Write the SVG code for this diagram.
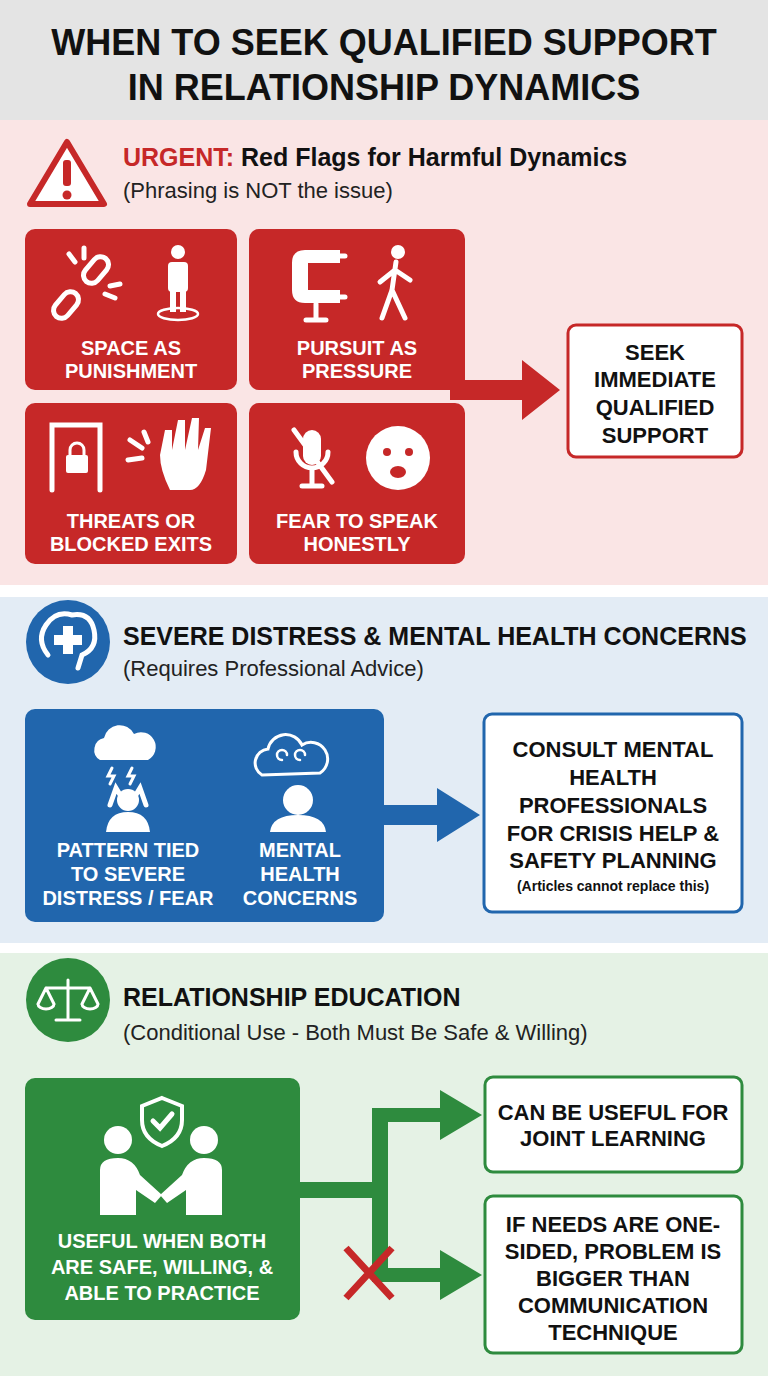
<svg xmlns="http://www.w3.org/2000/svg" width="768" height="1376" viewBox="0 0 768 1376">
<style>
text{font-family:"Liberation Sans",Arial,sans-serif;font-weight:bold}
.t{font-size:36px;fill:#111;text-anchor:middle}
.h{font-size:25px;fill:#111}
.s{font-size:22px;fill:#222;font-weight:normal}
.w{font-size:20px;fill:#fff;text-anchor:middle}
.b{font-size:22px;fill:#111;text-anchor:middle}
.ic{fill:#fff}
.ics{stroke:#fff;stroke-width:5;fill:none;stroke-linecap:round}
</style>
<defs></defs>
<rect x="0" y="0" width="768" height="120" fill="#e4e4e4"/>
<rect x="0" y="120" width="768" height="465" fill="#fae5e5"/>
<rect x="0" y="597" width="768" height="346" fill="#e3ecf5"/>
<rect x="0" y="953" width="768" height="423" fill="#e5f2e5"/>
<g id="title"><text class="t" x="384" y="55">WHEN TO SEEK QUALIFIED SUPPORT</text><text class="t" x="384" y="100">IN RELATIONSHIP DYNAMICS</text></g>

<g id="red-header">
<path d="M67 142 L104 204 L30 204 Z" fill="#fff" stroke="#c62828" stroke-width="6" stroke-linejoin="round"/>
<rect x="63" y="160" width="8" height="26" rx="3" fill="#c62828"/><circle cx="67" cy="195" r="4.5" fill="#c62828"/>
<text class="h" x="123" y="166"><tspan fill="#c62828">URGENT:</tspan> Red Flags for Harmful Dynamics</text>
<text class="s" x="123" y="198">(Phrasing is NOT the issue)</text>
</g>
<g id="n-space"><rect x="25" y="229" width="212" height="161" rx="10" fill="#c62828"/>
<g class="ics"><rect x="58" y="290" width="16" height="30" rx="8" transform="rotate(40 66 305)"/><rect x="88" y="255" width="16" height="30" rx="8" transform="rotate(40 96 270)"/><path d="M75 262 l-6 -8 M84 258 l0 -10 M105 294 l10 4 M110 286 l10 -2"/></g>
<circle class="ic" cx="178" cy="252" r="7"/><rect class="ic" x="168" y="262" width="20" height="30" rx="4"/><rect class="ic" x="170" y="290" width="6" height="22"/><rect class="ic" x="180" y="290" width="6" height="22"/><ellipse cx="178" cy="314" rx="20" ry="6" fill="none" stroke="#fff" stroke-width="2.5"/>
<text class="w" x="131" y="355">SPACE AS</text><text class="w" x="131" y="378">PUNISHMENT</text></g>
<g id="n-pursuit"><rect x="249" y="229" width="216" height="161" rx="10" fill="#c62828"/>
<path d="M340 250 L305 250 Q292 250 292 263 L292 290 Q292 303 305 303 L340 303 L340 290 L308 290 L308 263 L340 263 Z" fill="#fff"/><path class="ics" d="M316 304 L316 318 M306 320 L326 320 M335 256 l10 0 M335 297 l10 0"/>
<circle class="ic" cx="398" cy="252" r="7"/><path class="ics" d="M396 262 L392 290 L382 318 M392 290 L405 318 M395 270 L380 282 M395 270 L410 280"/>
<text class="w" x="357" y="355">PURSUIT AS</text><text class="w" x="357" y="378">PRESSURE</text></g>
<g id="n-threats"><rect x="25" y="403" width="212" height="161" rx="10" fill="#c62828"/>
<path class="ics" d="M52 490 L52 425 L100 425 L100 490"/><rect class="ic" x="66" y="455" width="22" height="18" rx="2"/><path d="M70 456 v-6 a7 7 0 0 1 14 0 v6" fill="none" stroke="#fff" stroke-width="3"/>
<path class="ic" d="M170 490 Q160 470 160 455 L165 430 L172 430 L172 450 L178 420 L185 420 L185 450 L192 418 L199 418 L198 450 L205 428 L211 428 L206 470 Q200 490 190 490 Z"/><path class="ics" d="M130 440 l12 8 M128 460 l14 -2 M144 432 l4 10"/>
<text class="w" x="131" y="528">THREATS OR</text><text class="w" x="131" y="551">BLOCKED EXITS</text></g>
<g id="n-fear"><rect x="249" y="403" width="216" height="161" rx="10" fill="#c62828"/>
<rect class="ic" x="303" y="430" width="18" height="35" rx="9"/><path class="ics" d="M296 452 a16 16 0 0 0 32 0 M312 470 v14 M302 486 h20 M294 430 L332 482"/>
<circle class="ic" cx="398" cy="458" r="32"/><circle cx="387" cy="452" r="4" fill="#c62828"/><circle cx="409" cy="452" r="4" fill="#c62828"/><ellipse cx="398" cy="472" rx="8" ry="6" fill="#c62828"/>
<text class="w" x="357" y="528">FEAR TO SPEAK</text><text class="w" x="357" y="551">HONESTLY</text></g>
<g id="n-seek"><rect x="568" y="325" width="174" height="132" rx="8" fill="#fff" stroke="#c62828" stroke-width="3"/>
<text class="b" x="655" y="360">SEEK</text><text class="b" x="655" y="387">IMMEDIATE</text><text class="b" x="655" y="415">QUALIFIED</text><text class="b" x="655" y="443">SUPPORT</text></g>

<g id="blue-header"><circle cx="68" cy="642" r="42" fill="#2166ad"/>
<path class="ics" d="M48 655 Q36 640 46 625 Q56 610 72 615 Q90 612 94 630 Q98 648 82 655 L78 668"/><rect class="ic" x="63" y="626" width="10" height="28"/><rect class="ic" x="54" y="635" width="28" height="10"/>
<text class="h" x="123" y="645">SEVERE DISTRESS &amp; MENTAL HEALTH CONCERNS</text>
<text class="s" x="123" y="676">(Requires Professional Advice)</text></g>
<g id="n-distress"><rect x="25" y="709" width="359" height="213" rx="10" fill="#2166ad"/>
<path class="ic" d="M100 760 a12 12 0 0 1 4 -22 a16 16 0 0 1 30 -4 a12 12 0 0 1 14 26 Z"/><path class="ics" d="M112 768 l-4 8 l6 0 l-4 8 M132 768 l-4 8 l6 0 l-4 8" style="stroke-width:3"/>
<circle class="ic" cx="128" cy="800" r="11"/><path class="ics" d="M110 805 L116 788 L122 798 M146 805 L140 788 L134 798"/><path class="ic" d="M106 832 Q108 812 128 812 Q148 812 150 832 Z"/>
<text class="w" x="128" y="857">PATTERN TIED</text><text class="w" x="128" y="881">TO SEVERE</text><text class="w" x="128" y="905">DISTRESS / FEAR</text>
<path d="M262 775 a14 14 0 0 1 6 -26 a18 18 0 0 1 34 -4 a14 14 0 0 1 18 28 Z" fill="none" stroke="#fff" stroke-width="3"/><path class="ics" style="stroke-width:2.5" d="M282 760 a5 5 0 1 1 5 -5 M300 760 a5 5 0 1 1 5 -5"/>
<circle class="ic" cx="298" cy="800" r="15"/><path class="ic" d="M270 832 Q272 815 298 815 Q324 815 326 832 Z"/>
<text class="w" x="300" y="857">MENTAL</text><text class="w" x="300" y="881">HEALTH</text><text class="w" x="300" y="905">CONCERNS</text></g>
<g id="n-consult"><rect x="484" y="714" width="258" height="198" rx="8" fill="#fff" stroke="#2166ad" stroke-width="3"/>
<text class="b" x="613" y="757">CONSULT MENTAL</text><text class="b" x="613" y="785">HEALTH</text><text class="b" x="613" y="813">PROFESSIONALS</text><text class="b" x="613" y="841">FOR CRISIS HELP &amp;</text><text class="b" x="613" y="868">SAFETY PLANNING</text><text x="613" y="891" style="font-size:14px;fill:#111;text-anchor:middle">(Articles cannot replace this)</text></g>

<g id="green-header"><circle cx="68" cy="1000" r="42" fill="#2e8b3e"/>
<path class="ics" style="stroke-width:3" d="M68 980 v38 M56 1020 h24 M46 988 h44 M46 988 l-8 16 M46 988 l8 16 M90 988 l-8 16 M90 988 l8 16 M38 1004 a8 5 0 0 0 16 0 M82 1004 a8 5 0 0 0 16 0"/>
<text class="h" x="123" y="1006">RELATIONSHIP EDUCATION</text>
<text class="s" x="123" y="1040">(Conditional Use - Both Must Be Safe &amp; Willing)</text></g>
<g id="n-useful"><rect x="25" y="1078" width="275" height="242" rx="10" fill="#2e8b3e"/>
<path d="M162 1098 l20 8 v14 q0 18 -20 26 q-20 -8 -20 -26 v-14 Z" fill="none" stroke="#fff" stroke-width="4"/><path class="ics" d="M153 1121 l7 7 l12 -14"/>
<circle class="ic" cx="118" cy="1140" r="14"/><circle class="ic" cx="204" cy="1140" r="14"/>
<path class="ic" d="M100 1215 L100 1170 Q100 1158 118 1158 Q134 1158 140 1175 L162 1195 L155 1203 L136 1190 L136 1215 Z"/><path class="ic" d="M222 1215 L222 1170 Q222 1158 204 1158 Q188 1158 182 1175 L160 1195 L167 1203 L186 1190 L186 1215 Z"/>
<text class="w" x="162" y="1248">USEFUL WHEN BOTH</text><text class="w" x="162" y="1274">ARE SAFE, WILLING, &amp;</text><text class="w" x="162" y="1300">ABLE TO PRACTICE</text></g>
<g id="n-joint"><rect x="485" y="1077" width="257" height="95" rx="8" fill="#fff" stroke="#2e8b3e" stroke-width="3"/>
<text class="b" x="613" y="1120">CAN BE USEFUL FOR</text><text class="b" x="613" y="1146">JOINT LEARNING</text></g>
<g id="n-onesided"><rect x="485" y="1196" width="257" height="157" rx="8" fill="#fff" stroke="#2e8b3e" stroke-width="3"/>
<text class="b" x="613" y="1232">IF NEEDS ARE ONE-</text><text class="b" x="613" y="1259">SIDED, PROBLEM IS</text><text class="b" x="613" y="1286">BIGGER THAN</text><text class="b" x="613" y="1313">COMMUNICATION</text><text class="b" x="613" y="1340">TECHNIQUE</text></g>

<g id="connectors">
<path d="M450 380 H522 V360 L560 390 L522 420 V400 H450 Z" fill="#c62828"/>
<path d="M384 805 H437 V788 L480 815 L437 842 V825 H384 Z" fill="#2166ad"/>
<path d="M300 1182 H372 V1108 H440 V1090 L482 1115 L440 1140 V1122 H388 V1268 H440 V1250 L482 1275 L440 1300 V1282 H372 V1198 H300 Z" fill="#2e8b3e"/>
<path d="M346 1248 L392 1298 M392 1248 L346 1298" stroke="#c62828" stroke-width="7"/>
</g>
</svg>
